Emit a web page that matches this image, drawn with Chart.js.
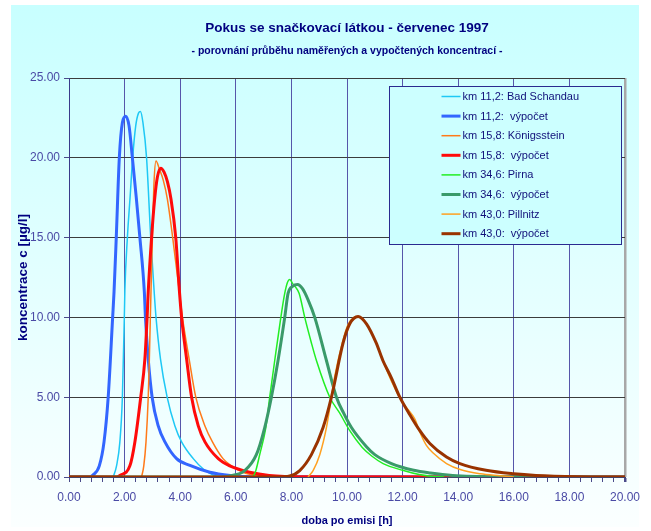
<!DOCTYPE html>
<html>
<head>
<meta charset="utf-8">
<script src="https://cdn.jsdelivr.net/npm/chart.js@4.4.1/dist/chart.umd.min.js"></script>
<style>
  html, body { margin: 0; padding: 0; background: #fff; }
  #wrap { width: 651px; height: 531px; }
</style>
</head>
<body>
<div id="wrap"><canvas id="chart" width="651" height="531"></canvas></div>
<script>
// doba po emisi [h] / koncentrace [µg/l]
const schandauT = [1.59, 1.71, 1.83, 1.92, 1.99, 2.01, 2.10, 2.20, 2.29, 2.40, 2.50, 2.57, 2.66, 2.79, 2.94, 3.06, 3.13, 3.29, 3.53, 3.81, 4.05, 4.47, 4.83, 5.19, 5.6];
const schandauC = [0, 0.7, 2.2, 5.0, 10.0, 11.7, 15.0, 17.6, 20.0, 22.0, 22.8, 22.9, 22.2, 20.0, 15.0, 11.7, 10.0, 7.4, 5.0, 3.2, 2.2, 1.15, 0.5, 0.12, 0];

const schandauCalcT = [0, 0.76, 0.85, 1.09, 1.26, 1.41, 1.57, 1.62, 1.70, 1.81, 1.92, 2.04, 2.16, 2.28, 2.42, 2.55, 2.71, 2.75, 2.85, 2.99, 3.21, 3.45, 3.87, 4.35, 5.07, 5.8, 6.6, 20];
const schandauCalcC = [0, 0, 0.1, 0.7, 2.2, 5.0, 10.0, 11.6, 15.0, 20.0, 22.2, 22.6, 22.0, 20.0, 17.5, 15.0, 11.6, 10.0, 7.4, 5.0, 3.2, 2.2, 1.15, 0.73, 0.3, 0.1, 0.02, 0];

const konigT = [2.61, 2.69, 2.77, 2.85, 2.89, 2.95, 3.00, 3.06, 3.13, 3.25, 3.39, 3.54, 3.73, 3.97, 4.08, 4.32, 4.56, 4.89, 5.16, 5.54, 5.84, 6.26, 7.0];
const konigC = [0, 0.7, 2.2, 5.0, 7.4, 11.7, 15.0, 18.5, 19.8, 19.3, 18.6, 17.4, 15.0, 11.6, 10.0, 7.4, 5.0, 3.2, 2.2, 1.15, 0.7, 0.3, 0];

const konigCalcT = [0, 1.72, 1.83, 2.19, 2.37, 2.58, 2.73, 2.81, 2.85, 2.97, 3.08, 3.18, 3.30, 3.42, 3.54, 3.67, 3.84, 3.97, 4.05, 4.23, 4.41, 4.65, 4.89, 5.37, 5.78, 6.5, 7.2, 8.6, 20];
const konigCalcC = [0, 0, 0.1, 0.7, 2.2, 5.0, 7.4, 10.0, 11.6, 15.0, 17.4, 18.8, 19.35, 19.1, 18.5, 17.4, 15.0, 11.7, 10.0, 7.4, 5.0, 3.2, 2.2, 1.15, 0.7, 0.3, 0.1, 0.02, 0];

const pirnaT = [6.62, 6.72, 6.86, 7.08, 7.22, 7.40, 7.62, 7.76, 7.86, 7.94, 8.05, 8.15, 8.28, 8.48, 8.72, 8.90, 9.38, 9.74, 10.10, 10.55, 10.90, 11.30, 12.0, 12.6, 13.0, 13.5];
const pirnaC = [0, 0.4, 1.4, 3.1, 5.0, 7.3, 10.0, 11.5, 12.2, 12.38, 12.1, 11.9, 11.5, 10.0, 8.4, 7.3, 5.0, 4.0, 2.9, 1.85, 1.3, 0.84, 0.42, 0.15, 0.05, 0];

const pirnaCalcT = [0, 5.5, 5.78, 6.32, 6.74, 7.04, 7.28, 7.52, 7.76, 7.88, 8.05, 8.22, 8.40, 8.60, 8.84, 9.26, 9.62, 9.88, 10.16, 10.70, 11.00, 11.60, 12.40, 13.00, 13.80, 15.5, 20];
const pirnaCalcC = [0, 0, 0.06, 0.4, 1.4, 3.1, 5.0, 7.3, 10.0, 11.5, 11.95, 12.06, 11.8, 11.1, 10.0, 7.3, 5.0, 4.0, 3.1, 1.9, 1.4, 0.84, 0.42, 0.25, 0.1, 0.02, 0];

const pillnitzT = [8.60, 8.78, 9.02, 9.26, 9.44, 9.56, 9.83, 10.05, 10.25, 10.40, 10.55, 10.70, 11.05, 11.29, 11.60, 11.89, 12.07, 12.25, 12.45, 12.60, 12.85, 13.10, 13.58, 14.10, 14.80, 15.50, 16.0];
const pillnitzC = [0, 0.4, 1.4, 3.1, 5.0, 6.3, 8.4, 9.6, 10.0, 10.06, 9.95, 9.6, 8.4, 7.3, 6.0, 5.0, 4.5, 4.1, 3.6, 2.9, 2.0, 1.5, 0.84, 0.45, 0.2, 0.08, 0];

const pillnitzCalcT = [0, 7.5, 7.94, 8.30, 8.72, 9.14, 9.44, 9.86, 10.10, 10.40, 10.70, 11.05, 11.29, 11.60, 11.90, 12.26, 12.62, 12.98, 13.58, 14.06, 15.0, 16.0, 16.8, 18.3, 20];
const pillnitzCalcC = [0, 0, 0.06, 0.4, 1.4, 3.1, 5.0, 8.4, 9.6, 10.06, 9.6, 8.4, 7.3, 6.2, 5.0, 3.9, 2.9, 2.1, 1.25, 0.84, 0.42, 0.2, 0.1, 0.02, 0];

const seriesNames = [
    'km 11,2: Bad Schandau', 'km 11,2:  výpočet',
    'km 15,8: Königsstein', 'km 15,8:  výpočet',
    'km 34,6: Pirna', 'km 34,6:  výpočet',
    'km 43,0: Pillnitz', 'km 43,0:  výpočet'
];
const seriesT = [schandauT, schandauCalcT, konigT, konigCalcT, pirnaT, pirnaCalcT, pillnitzT, pillnitzCalcT];
const seriesC = [schandauC, schandauCalcC, konigC, konigCalcC, pirnaC, pirnaCalcC, pillnitzC, pillnitzCalcC];
const seriesColors = ['#1ec8f5', '#3366ff', '#ff7a1a', '#ff0a0a', '#22ee22', '#3a9a6a', '#ffa020', '#993300'];
const seriesWidths = [1.5, 3, 1.5, 3, 1.5, 3, 1.5, 3];

const xMax = 20, xMajorStep = 2, xMinorStep = 0.4;
const yMax = 25, yStep = 5;

const sans = "'Liberation Sans', Arial, sans-serif";
const tickBlue = '#4a4aa5';
const navy = '#000080';

const isMajor = v => Math.abs(v / xMajorStep - Math.round(v / xMajorStep)) < 1e-6;

// cyan fill behind everything
const backdrop = {
    id: 'backdrop',
    beforeDraw(chart) {
        const ctx = chart.ctx;
        ctx.save();
        ctx.fillStyle = '#ffffff';
        ctx.fillRect(0, 0, chart.width, chart.height);
        const g = ctx.createLinearGradient(0, 5, 0, chart.height - 4);
        g.addColorStop(0, '#c8ffff');
        g.addColorStop(1, '#fbffff');
        ctx.fillStyle = g;
        ctx.fillRect(11, 5, chart.width - 23, chart.height - 9);
        ctx.restore();
    }
};

// legend box inside the plot, drawn over the lines
const boxLegend = {
    id: 'boxLegend',
    afterDatasetsDraw(chart) {
        const ctx = chart.ctx;
        const area = chart.chartArea;
        const left = area.left + 320.5, top = area.top + 8.5, w = 232, h = 158;
        ctx.save();
        ctx.fillStyle = '#ccffff';
        ctx.fillRect(left, top, w, h);
        ctx.strokeStyle = '#2a2a90';
        ctx.lineWidth = 1;
        ctx.strokeRect(left, top, w, h);
        ctx.font = '11px ' + sans;
        ctx.textBaseline = 'middle';
        seriesNames.forEach((name, i) => {
            const y = top + 10 + i * 19.6;
            ctx.strokeStyle = seriesColors[i];
            ctx.lineWidth = seriesWidths[i];
            ctx.beginPath();
            ctx.moveTo(left + 52, y);
            ctx.lineTo(left + 71, y);
            ctx.stroke();
            ctx.fillStyle = '#10107a';
            ctx.fillText(name, left + 73, y + 0.5);
        });
        ctx.restore();
    }
};

const datasets = seriesNames.map((name, i) => ({
    label: name,
    data: seriesT[i].map((t, k) => ({ x: t, y: seriesC[i][k] })),
    borderColor: seriesColors[i],
    borderWidth: seriesWidths[i],
    pointRadius: 0,
    fill: false,
    cubicInterpolationMode: 'monotone',
    order: seriesNames.length - i
}));

new Chart(document.getElementById('chart'), {
    type: 'line',
    data: { datasets: datasets },
    options: {
        responsive: false,
        animation: false,
        events: [],
        layout: { padding: { left: 0, right: 26, top: 0, bottom: 0 } },
        plugins: {
            legend: { display: false },
            tooltip: { enabled: false },
            title: {
                display: true,
                fullSize: false,
                text: 'Pokus se snačkovací látkou - červenec 1997',
                color: navy,
                font: { family: sans, size: 13.5, weight: 'bold' },
                padding: { top: 19.9, bottom: 2 }
            },
            subtitle: {
                display: true,
                fullSize: false,
                text: '- porovnání průběhu naměřených a vypočtených koncentrací -',
                color: navy,
                font: { family: sans, size: 10.5, weight: 'bold' },
                padding: { top: 6.6, bottom: 20.7 }
            }
        },
        scales: {
            x: {
                type: 'linear',
                min: 0,
                max: xMax,
                afterFit(scale) { scale.height = 54; },
                afterBuildTicks(scale) {
                    const ticks = [];
                    for (let k = 0; k * xMinorStep <= xMax + 1e-9; k++) {
                        ticks.push({ value: +(k * xMinorStep).toFixed(2) });
                    }
                    scale.ticks = ticks;
                },
                ticks: {
                    autoSkip: false,
                    maxRotation: 0,
                    padding: 8,
                    color: tickBlue,
                    font: { family: sans, size: 12 },
                    callback: v => isMajor(v) ? v.toFixed(2) : ''
                },
                grid: {
                    color: c => {
                        const v = c.tick ? c.tick.value : 0;
                        if (v >= xMax - 1e-6) return '#a8a8a8';
                        return isMajor(v) ? '#5656aa' : 'rgba(0,0,0,0)';
                    },
                    lineWidth: c => (c.tick && c.tick.value >= xMax - 1e-6) ? 2.5 : 1,
                    tickColor: '#4a4a8a',
                    tickLength: 5
                },
                border: { color: '#444466', width: 1 },
                title: {
                    display: true,
                    text: 'doba po emisi [h]',
                    color: navy,
                    font: { family: sans, size: 11, weight: 'bold' },
                    padding: { top: 0, bottom: 3.4 }
                }
            },
            y: {
                min: 0,
                max: yMax,
                afterFit(scale) { scale.width = 69; },
                ticks: {
                    stepSize: yStep,
                    padding: 4,
                    color: tickBlue,
                    font: { family: sans, size: 12 },
                    callback: v => v.toFixed(2)
                },
                grid: {
                    color: '#3c3c3c',
                    tickColor: '#4a4a8a',
                    tickLength: 5
                },
                border: { color: '#3a3a8a', width: 1 },
                title: {
                    display: true,
                    text: 'koncentrace c [µg/l]',
                    color: navy,
                    font: { family: sans, size: 13.5, weight: 'bold' },
                    padding: { top: 15, bottom: 0 }
                }
            }
        }
    },
    plugins: [backdrop, boxLegend]
});
</script>
</body>
</html>
